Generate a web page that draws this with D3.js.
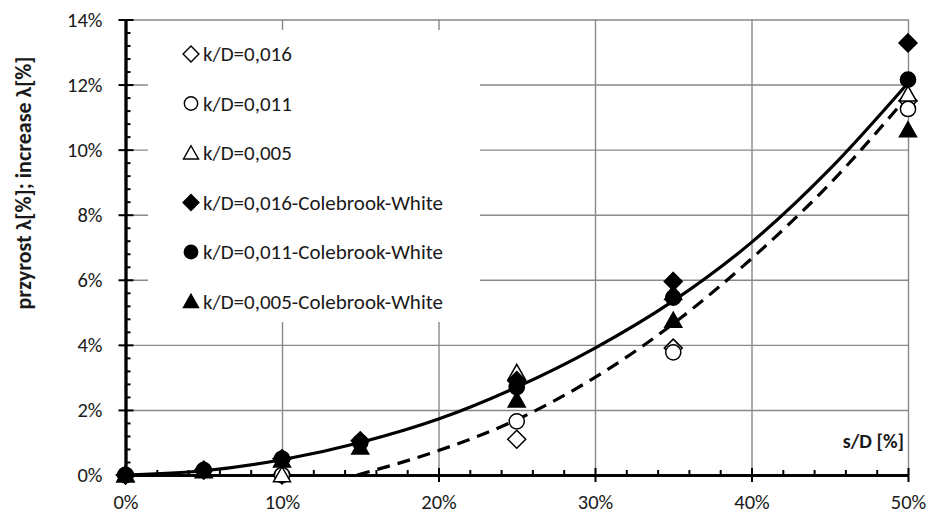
<!DOCTYPE html>
<html>
<head>
<meta charset="utf-8">
<script src="https://cdn.jsdelivr.net/npm/d3@7"></script>
<style>
body{margin:0;background:#fff;}
svg{display:block;font-family:Carlito,Calibri,Lato,sans-serif;}
</style>
</head>
<body>
<svg id="chart"></svg>
<script>
// s/D [%] values where points were measured/calculated
let xsAll=[0,5,10,15,25,35,50];
let xsMeas=[0,10,25,35,50];

// measured (open markers)
let meas016=[0,0,1.1,3.9,11.5];
let meas011=[0,0,1.65,3.77,11.25];
let meas005=[0,0,3.15,5.6,11.7];

// Colebrook-White (filled markers)
let cw016=[0,0.15,0.5,1.05,2.9,5.95,13.28];
let cw011=[0,0.15,0.5,1.0,2.7,5.45,12.15];
let cw005=[0,0.12,0.45,0.85,2.3,4.75,10.6];

// trend lines
let trendCwX=[0,5,10,15,20,25,30,35,40,45,50];
let trendCwY=[0,0.13,0.47,1.0,1.72,2.7,3.9,5.35,7.15,9.4,12.05];
let trendMeasX=[14.8,20,25,30,35,40,45,50];
let trendMeasY=[0,0.75,1.7,3.0,4.65,6.65,8.95,11.65];

let yTicks=[0,2,4,6,8,10,12,14];
let xTicks=[0,10,20,30,40,50];

let legendNames=['k/D=0,016','k/D=0,011','k/D=0,005',
  'k/D=0,016-Colebrook-White','k/D=0,011-Colebrook-White','k/D=0,005-Colebrook-White'];

let width=932;
let height=517;
const svg=d3.select('#chart').attr('width',width).attr('height',height);

let xScale=d3.scaleLinear().domain([0,50]).range([125.5,908]);
let yScale=d3.scaleLinear().domain([0,14]).range([475,19.5]);

let fmt=d=>d+'%';

// symbols
let diamond=s=>`M0,${-s}L${s},0L0,${s}L${-s},0Z`;
let triangle=(w,h)=>`M0,${-h*0.55}L${w/2},${h*0.45}L${-w/2},${h*0.45}Z`;
let circle=r=>`M${r},0A${r},${r} 0 1,1 ${-r},0A${r},${r} 0 1,1 ${r},0Z`;
let shapes={
  diamond:diamond(9),
  circle:circle(7.6),
  triangle:triangle(17,15)
};

// gridlines
svg.append('g')
  .attr('transform','translate('+xScale(0)+',0)')
  .call(d3.axisLeft(yScale).tickValues(yTicks.slice(1)).tickSize(-(xScale(50)-xScale(0))).tickFormat(''))
  .call(g=>g.select('.domain').remove())
  .selectAll('line').attr('stroke','#898989').attr('stroke-width',1.4);
svg.append('g')
  .attr('transform','translate(0,'+yScale(0)+')')
  .call(d3.axisBottom(xScale).tickValues(xTicks.slice(1)).tickSize(-(yScale(0)-yScale(14))).tickFormat(''))
  .call(g=>g.select('.domain').remove())
  .selectAll('line').attr('stroke','#898989').attr('stroke-width',1.4);

// legend box (white, covers grid)
let legX=148, legY=30, legStep=49.5;
let leg=svg.append('g');
leg.append('rect').attr('x',legX).attr('y',legY).attr('width',332).attr('height',292).attr('fill','#fff');

// axes
let yAxisG=svg.append('g').attr('transform','translate('+xScale(0)+',0)');
yAxisG.call(d3.axisLeft(yScale).tickValues(yTicks).tickFormat(fmt).tickSizeInner(7).tickSizeOuter(0).tickPadding(16));
yAxisG.append('g').call(d3.axisRight(yScale).tickValues(yTicks).tickFormat('').tickSizeInner(8).tickSizeOuter(0));
yAxisG.append('g').call(d3.axisRight(yScale).tickValues(d3.range(0,70).map(d=>d*0.4).filter(d=>d<14&&Math.abs(d/2-Math.round(d/2))>0.01)).tickFormat('').tickSizeInner(5).tickSizeOuter(0));

let xAxisG=svg.append('g').attr('transform','translate(0,'+yScale(0)+')');
xAxisG.call(d3.axisBottom(xScale).tickValues(xTicks).tickFormat(fmt).tickSizeInner(7).tickSizeOuter(0).tickPadding(12));
xAxisG.append('g').call(d3.axisTop(xScale).tickValues(xTicks).tickFormat('').tickSizeInner(7).tickSizeOuter(0));
xAxisG.append('g').call(d3.axisTop(xScale).tickValues(d3.range(2,50,2).filter(d=>d%10!=0)).tickFormat('').tickSizeInner(5).tickSizeOuter(0));

svg.selectAll('.domain').attr('stroke','#000').attr('stroke-width',2.6);
yAxisG.selectAll('line').attr('stroke','#000').attr('stroke-width',2);
xAxisG.selectAll('line').attr('stroke','#000').attr('stroke-width',2);
svg.selectAll('.tick text').attr('font-size',20.5).attr('fill','#1a1a1a').attr('font-family','Carlito,Calibri,Lato,sans-serif');

// trend lines
let line=d3.line().x(d=>xScale(d[0])).y(d=>yScale(d[1])).curve(d3.curveMonotoneX);
svg.append('path').datum(d3.zip(trendMeasX,trendMeasY))
  .attr('d',line).attr('fill','none').attr('stroke','#000').attr('stroke-width',3.2).attr('stroke-dasharray','13,8');
svg.append('path').datum(d3.zip(trendCwX,trendCwY))
  .attr('d',line).attr('fill','none').attr('stroke','#000').attr('stroke-width',3.2);

// points, drawn in series order like the original
let series=[
  {xs:xsMeas,ys:meas016,shape:'diamond',fill:'#fff'},
  {xs:xsMeas,ys:meas011,shape:'circle',fill:'#fff'},
  {xs:xsMeas,ys:meas005,shape:'triangle',fill:'#fff'},
  {xs:xsAll,ys:cw016,shape:'diamond',fill:'#000'},
  {xs:xsAll,ys:cw011,shape:'circle',fill:'#000'},
  {xs:xsAll,ys:cw005,shape:'triangle',fill:'#000'}
];
series.forEach(s=>{
  svg.append('g').selectAll('path')
    .data(d3.zip(s.xs,s.ys))
    .enter()
    .append('path')
    .attr('d',shapes[s.shape])
    .attr('transform',d=>'translate('+xScale(d[0])+','+yScale(d[1])+')')
    .attr('fill',s.fill)
    .attr('stroke','#000')
    .attr('stroke-width',1.5);
});

// legend entries
series.forEach((s,i)=>{
  let cy=legY+24+i*legStep;
  leg.append('path').attr('d',shapes[s.shape])
    .attr('transform','translate(191,'+cy+') scale(0.88)')
    .attr('fill',s.fill).attr('stroke','#000').attr('stroke-width',1.6);
  leg.append('text').attr('x',203).attr('y',cy).attr('dy','0.35em')
    .attr('font-size',21).attr('fill','#1a1a1a').text(legendNames[i]);
});

// axis titles
svg.append('text')
  .attr('transform','translate(31,183) rotate(-90)')
  .attr('text-anchor','middle')
  .attr('font-weight','bold').attr('font-size',22).attr('fill','#1a1a1a')
  .text('przyrost  λ[%]; increase λ[%]');
svg.append('text')
  .attr('x',904).attr('y',448)
  .attr('text-anchor','end')
  .attr('font-weight','bold').attr('font-size',20).attr('fill','#1a1a1a')
  .text('s/D [%]');
</script>
</body>
</html>
